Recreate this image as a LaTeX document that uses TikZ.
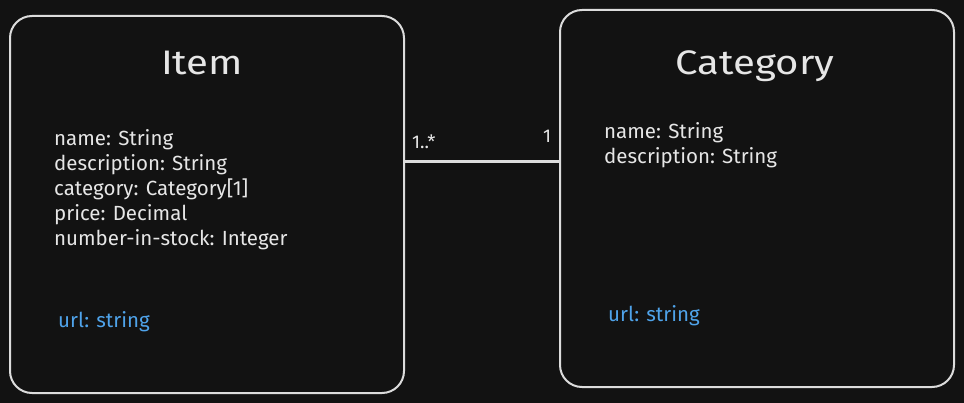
\documentclass[tikz,border=0pt]{standalone}
\usepackage{fontspec}
\setmainfont{Fira Sans}
\definecolor{bg}{HTML}{121212}
\definecolor{stroke}{HTML}{DCDCDC}
\definecolor{txt}{HTML}{E6E6E6}
\definecolor{blu}{HTML}{4FA3EA}
\newcommand{\widetitle}[1]{\scalebox{1.18}[1]{#1}}
\begin{document}
\begin{tikzpicture}[x=1pt,y=-1pt,
  umlbox/.style={draw=stroke,line width=2pt,rounded corners=22pt,minimum width=394pt,minimum height=377pt,inner sep=0pt},
  title/.style={text=txt,font=\fontsize{34}{38}\selectfont,anchor=base,inner sep=0pt},
  attr/.style={text=txt,font=\fontsize{20.5}{25}\selectfont,anchor=base west,inner sep=0pt},
  urlattr/.style={text=blu,font=\fontsize{20.5}{25}\selectfont,anchor=base west,inner sep=0pt},
  mult/.style={text=txt,font=\fontsize{18.5}{20}\selectfont,anchor=base west,inner sep=0pt},
  conn/.style={draw=stroke,line width=3pt}]
\fill[bg] (0,0) rectangle (964,403);
\useasboundingbox (0,0) rectangle (964,403);
\node[umlbox] (item) at (207,204.5) {};
\node[umlbox] (cat) at (757,198.5) {};
\coordinate (cy) at (480,162);
\draw[conn] (item.east |- cy) -- (cat.west |- cy);
\node[title] (itemt) at (202,75) {\widetitle{Item}};
\node[title] (catt) at (755,75) {\widetitle{Category}};
\node[attr] (i1) at (54,146) {name: String};
\node[attr] (i2) at (54,171) {description: String};
\node[attr] (i3) at (54,196) {category: Category[1]};
\node[attr] (i4) at (54,221) {price: Decimal};
\node[attr] (i5) at (54,246) {number-in-stock: Integer};
\node[urlattr] (iu) at (58,328) {url: string};
\node[attr] (c1) at (604,139) {name: String};
\node[attr] (c2) at (604,164) {description: String};
\node[urlattr] (cu) at (608,322) {url: string};
\node[mult] (m1) at (412,149) {1..*};
\node[mult] (m2) at (543,143) {1};
\end{tikzpicture}
\end{document}
